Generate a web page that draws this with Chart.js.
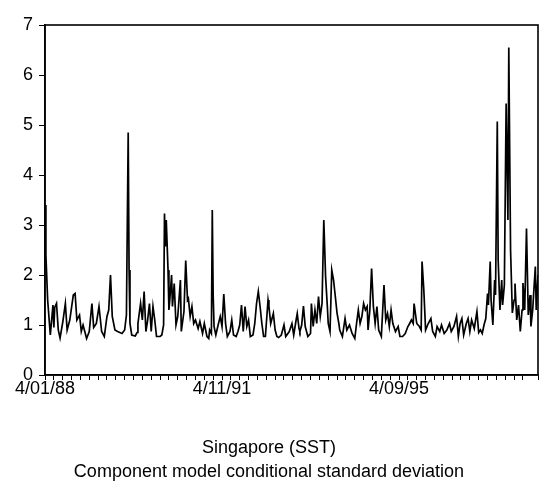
<!DOCTYPE html>
<html>
<head>
<meta charset="utf-8">
<script src="https://cdn.jsdelivr.net/npm/chart.js@4"></script>
<style>
  html, body { margin: 0; padding: 0; background: #fff; }
  #chart { display: block; }
</style>
</head>
<body>
<canvas id="chart" width="547" height="486"></canvas>
<script>
const weeks = [0,1,3,6,9,10,11,13,15,17,20,23,25,28,32,34,36,39,41,43,47,50,53,55,58,61,64,67,70,72,74,76,79,82,87,90,92,94,95,96,98,102,104,105,108,110,112,114,116,118,120,122,124,126,130,132,134,135,136,137,139,140,141,143,144,146,148,150,153,154,157,159,161,162,164,166,168,170,173,175,178,180,183,185,186,188,189,190,191,193,196,198,200,202,204,206,209,211,213,216,218,220,222,224,226,228,230,232,235,237,239,241,243,245,247,249,252,253,255,258,260,262,264,267,270,272,276,279,281,284,285,287,288,290,292,294,297,300,301,303,305,307,309,311,313,315,317,319,320,322,324,326,328,330,332,333,336,339,341,344,347,350,352,354,356,358,360,362,364,365,367,369,371,373,375,377,380,383,385,387,389,391,393,396,399,401,404,407,410,412,414,416,417,420,423,425,426,428,430,433,436,438,441,443,446,448,451,454,457,459,462,465,467,469,471,473,476,478,480,482,485,488,490,492,494,496,498,500,501,503,504,506,508,509,511,512,514,516,517,519,521,523,524,526,528,530,531,533,535,537,539,540,542,544,546,548,549,551,552,554,555,557];

// conditional standard deviation
const sdValues = [3.4,2.4,1.5,0.8,1.4,0.95,1.35,1.43,0.9,0.74,1.05,1.43,0.9,1.1,1.6,1.63,1.1,1.2,0.87,1.0,0.73,0.87,1.43,0.95,1.03,1.37,0.87,0.77,1.17,1.3,2.0,1.17,0.9,0.87,0.83,0.9,1.2,4.85,2.1,1.03,0.8,0.78,0.85,1.03,1.43,1.1,1.67,0.87,1.1,1.43,0.87,1.37,1.1,0.77,0.77,0.8,1.0,3.23,2.57,3.1,2.1,1.3,1.5,2.0,1.37,1.83,1.0,1.17,1.9,0.87,1.27,2.29,1.5,1.53,1.17,1.37,1.03,1.1,0.93,1.07,0.83,1.03,0.77,0.73,0.9,0.83,3.3,1.6,0.97,0.8,1.03,1.17,0.97,1.62,1.03,0.77,0.87,1.1,0.8,0.77,0.87,1.0,1.4,0.87,1.37,0.97,1.1,0.77,0.8,1.03,1.43,1.67,1.37,1.03,0.77,0.77,1.5,1.37,1.03,1.23,0.9,0.77,0.75,0.8,1.0,0.77,0.87,1.03,0.8,1.13,1.23,0.93,0.87,1.0,1.38,0.97,0.77,0.83,1.43,0.97,1.3,1.03,1.57,1.17,1.43,3.1,1.97,1.37,1.03,0.87,2.1,1.9,1.57,1.23,1.03,0.9,0.77,1.13,0.9,1.0,0.83,0.73,1.03,1.3,1.03,1.17,1.43,1.3,1.37,0.9,1.3,2.13,1.37,1.03,1.37,0.9,0.77,1.8,1.1,1.23,0.97,1.3,1.03,0.87,0.97,0.77,0.77,0.83,0.97,1.03,1.1,1.03,1.43,1.03,0.97,0.9,2.27,1.7,0.9,1.03,1.13,0.87,0.77,0.97,0.87,1.0,0.83,0.9,1.03,0.87,0.97,1.17,0.77,1.03,1.13,0.8,1.03,1.13,0.87,1.1,0.93,1.27,0.85,0.9,0.83,1.0,1.13,1.63,1.4,2.27,1.5,1.0,1.9,1.6,5.07,2.3,1.3,1.9,1.4,1.8,5.43,3.1,6.55,2.5,1.24,1.5,1.83,1.1,1.4,0.87,1.3,1.84,1.3,2.93,1.2,1.6,0.97,1.3,1.6,2.17,1.3,2.0];

const tickWeeks = [0, 200, 400];
const tickLabels = ['4/01/88', '4/11/91', '4/09/95'];
const lastWeek = 557;

const titleLines = ['Singapore (SST)', 'Component model conditional standard deviation'];

const points = weeks.map((w, i) => ({ x: w, y: sdValues[i] }));

// plot frame around the chart area
const framePlugin = {
  id: 'frame',
  afterDatasetsDraw(chart) {
    const a = chart.chartArea;
    const ctx = chart.ctx;
    ctx.save();
    ctx.strokeStyle = '#000';
    ctx.lineWidth = 1.6;
    ctx.strokeRect(a.left, a.top, a.right - a.left, a.bottom - a.top);
    ctx.restore();
  }
};

const font = { family: '"Liberation Sans", Arial, Helvetica, sans-serif', size: 18 };

const ctx = document.getElementById('chart').getContext('2d');
new Chart(ctx, {
  type: 'line',
  data: {
    datasets: [{
      data: points,
      borderColor: '#000',
      borderWidth: 1.7,
      pointRadius: 0,
      tension: 0,
      fill: false
    }]
  },
  options: {
    responsive: false,
    animation: false,
    layout: { padding: { left: 0, right: 9, top: 25, bottom: 2.4 } },
    plugins: {
      legend: { display: false },
      tooltip: { enabled: false },
      title: {
        display: true,
        position: 'bottom',
        text: titleLines,
        color: '#000',
        font: { family: font.family, size: 18, weight: 'normal', lineHeight: 1.3 },
        padding: 0
      }
    },
    scales: {
      x: {
        type: 'linear',
        min: 0,
        max: lastWeek,
        afterFit(s) { s.height = 61.8; },
        grid: { drawOnChartArea: false, drawTicks: true, tickLength: 5, color: '#000' },
        border: { display: true, color: '#000', width: 1.6 },
        ticks: {
          stepSize: 10,
          autoSkip: false,
          maxRotation: 0,
          padding: -2,
          color: '#000',
          font: font,
          callback(v) {
            const k = tickWeeks.indexOf(v);
            return k >= 0 ? tickLabels[k] : '';
          }
        }
      },
      y: {
        min: 0,
        max: 7,
        afterFit(s) { s.width = 45; },
        grid: { drawOnChartArea: false, drawTicks: true, tickLength: 6, color: '#000' },
        border: { display: true, color: '#000', width: 1.6 },
        ticks: { stepSize: 1, padding: 6, color: '#000', font: font }
      }
    }
  },
  plugins: [framePlugin]
});
</script>
</body>
</html>
